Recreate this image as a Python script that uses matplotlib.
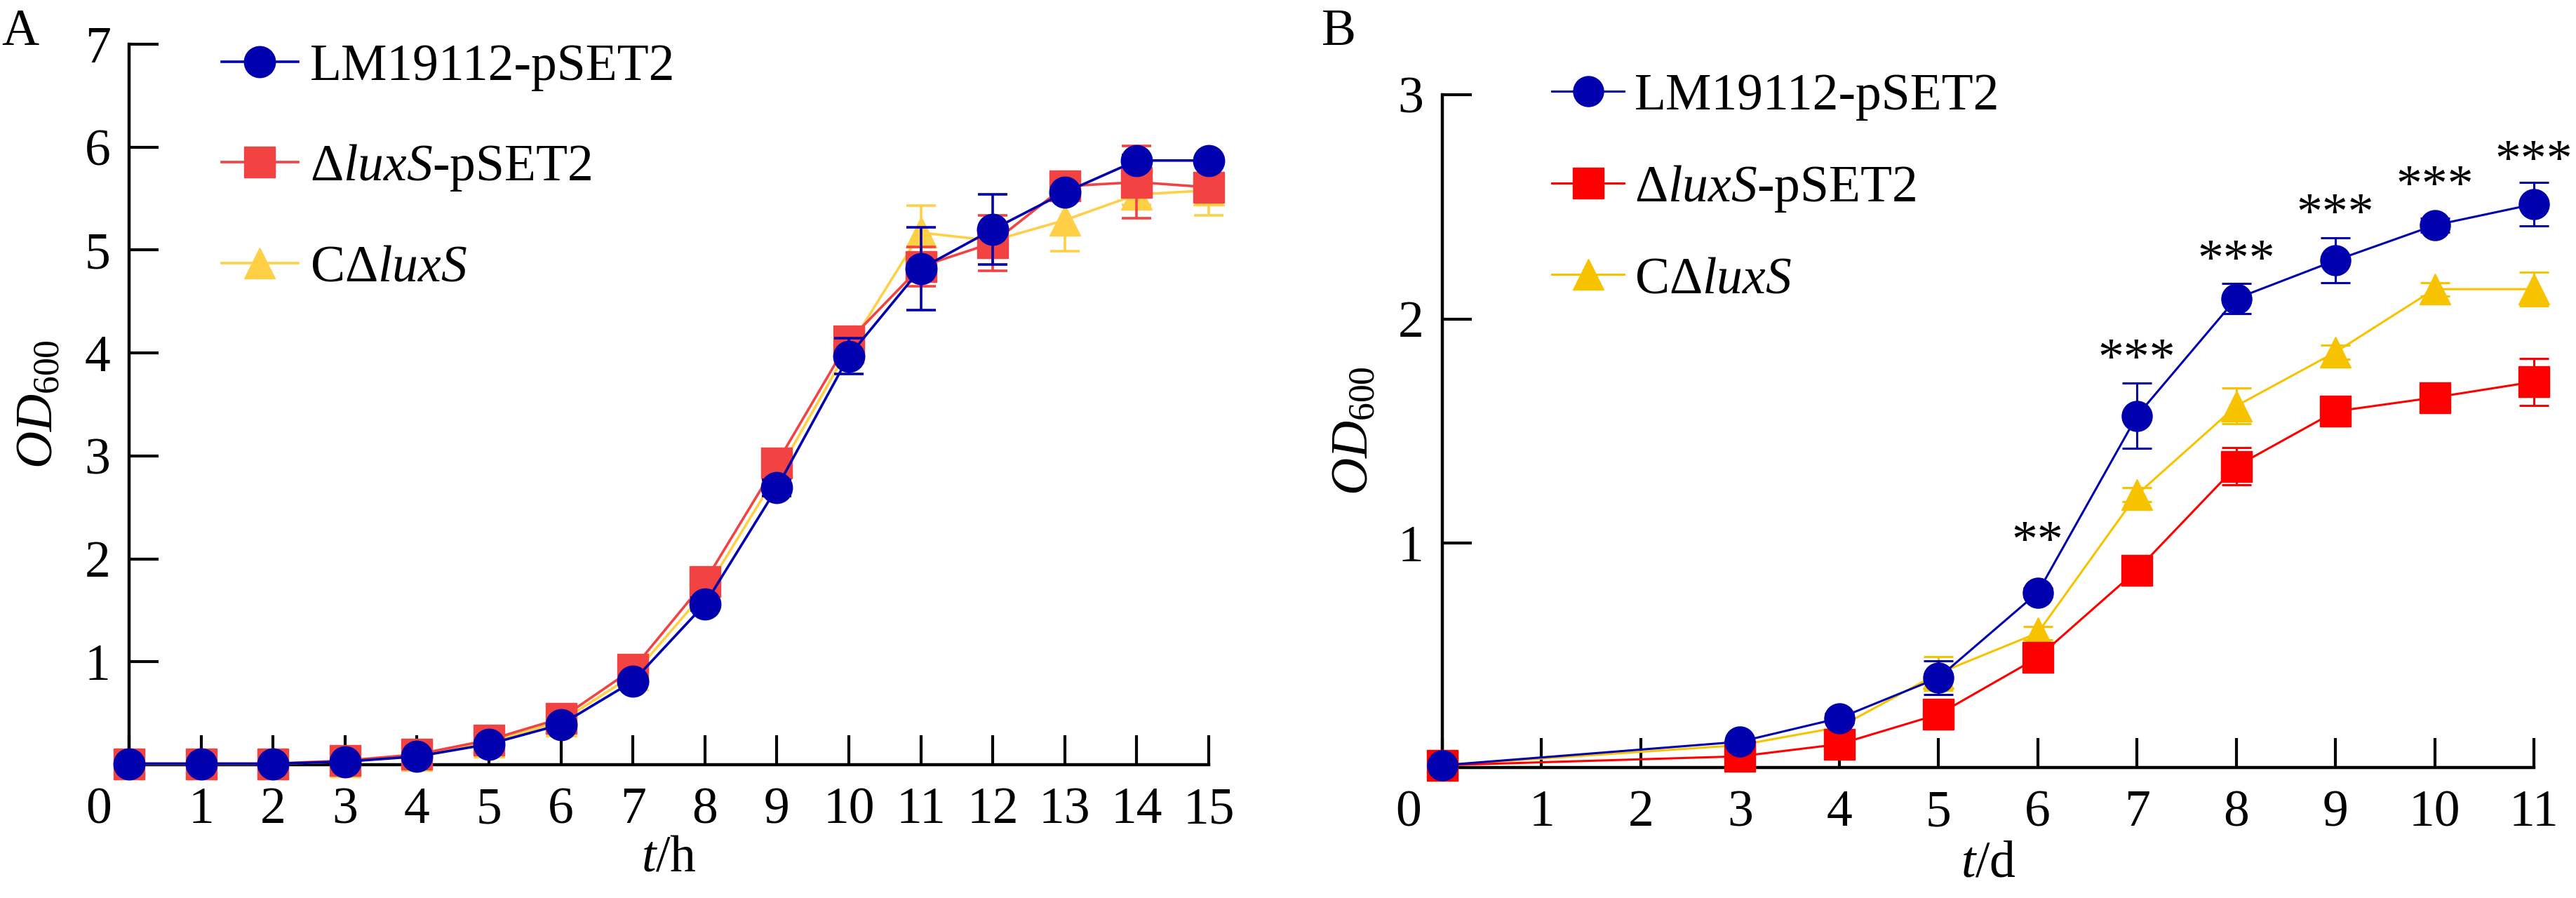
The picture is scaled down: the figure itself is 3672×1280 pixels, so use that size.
import matplotlib
matplotlib.use('Agg')
import matplotlib.pyplot as plt

plt.rcParams['font.family'] = ['Liberation Serif', 'DejaVu Serif']
plt.rcParams['mathtext.fontset'] = 'custom'
plt.rcParams['mathtext.rm'] = 'Liberation Serif'
plt.rcParams['mathtext.it'] = 'Liberation Serif:italic'

# ---- data: panel A (growth over hours) ----
hours = list(range(16))
a_wt = [0.01, 0.01, 0.01, 0.03, 0.08, 0.20, 0.39, 0.81, 1.56, 2.69, 3.97, 4.82, 5.20, 5.56, 5.87, 5.87]
a_wt_err = [0.01, 0.01, 0.01, 0.01, 0.02, 0.03, 0.04, 0.05, 0.06, 0.08, 0.175, 0.40, 0.34, 0.05, 0.05, 0.04]
a_mut = [0.01, 0.01, 0.01, 0.04, 0.10, 0.24, 0.45, 0.93, 1.78, 2.93, 4.12, 4.84, 5.07, 5.62, 5.66, 5.61]
a_mut_err = [0.01, 0.01, 0.01, 0.01, 0.02, 0.03, 0.04, 0.05, 0.06, 0.08, 0.06, 0.19, 0.27, 0.06, 0.35, 0.10]
a_comp = [0.01, 0.01, 0.01, 0.03, 0.09, 0.22, 0.42, 0.87, 1.68, 2.82, 4.05, 5.17, 5.09, 5.29, 5.54, 5.58]
a_comp_err = [0.01, 0.01, 0.01, 0.01, 0.02, 0.03, 0.04, 0.05, 0.06, 0.08, 0.08, 0.26, 0.15, 0.30, 0.10, 0.24]

# ---- data: panel B (growth over days) ----
days = [0, 3, 4, 5, 6, 7, 8, 9, 10, 11]
b_wt = [0.01, 0.115, 0.22, 0.40, 0.78, 1.568, 2.091, 2.261, 2.418, 2.512]
b_wt_err = [0.01, 0.01, 0.02, 0.075, 0.02, 0.145, 0.068, 0.10, 0.03, 0.098]
b_mut = [0.01, 0.05, 0.104, 0.237, 0.49, 0.88, 1.343, 1.588, 1.650, 1.72]
b_mut_err = [0.01, 0.01, 0.01, 0.02, 0.05, 0.03, 0.083, 0.03, 0.03, 0.105]
b_comp = [0.01, 0.10, 0.18, 0.42, 0.60, 1.217, 1.612, 1.852, 2.133, 2.133]
b_comp_err = [0.01, 0.01, 0.01, 0.075, 0.03, 0.03, 0.08, 0.03, 0.03, 0.075]

sig_days = [6, 7, 8, 9, 10, 11]
sig_marks = ['**', '***', '***', '***', '***', '***']
sig_y = [1.05, 1.864, 2.306, 2.51, 2.636, 2.75]

labels = ['LM19112-pSET2', r'Δ$\mathit{luxS}$-pSET2', r'CΔ$\mathit{luxS}$']
markers = ['o', 's', '^']
colors_a = ['#0000AF', '#F24242', '#FFD045']
colors_b = ['#0000AF', '#FF0000', '#F7C300']

FS = 53
W, H = 3672, 1280

fig = plt.figure(figsize=(W / 100, H / 100), dpi=100)
axA = fig.add_axes([184 / W, (H - 1090) / H, (1723 - 184) / W, (1090 - 63) / H])
axB = fig.add_axes([2056 / W, (H - 1094) / H, (3612 - 2056) / W, (1094 - 135) / H])


def draw_series(ax, x, series, errs, colors, lw, ms):
    handles = []
    # draw complement first, wild type last so blue sits on top
    for i in [2, 1, 0]:
        eb = ax.errorbar(x, series[i], yerr=errs[i], color=colors[i], marker=markers[i],
                         ms=ms, mec=colors[i], mfc=colors[i], lw=lw, elinewidth=lw,
                         capsize=15, capthick=lw, zorder=3 + (2 - i))
        for art in [eb.lines[0], *eb.lines[1], *eb.lines[2]]:
            art.set_clip_on(False)
        handles.append((i, eb.lines[0]))
    handles.sort()
    return [h for _, h in handles]


def style_axes(ax, xmax, ymax, xlab, ylab_x, xlab_y, zero_dx):
    ax.set_xlim(0, xmax)
    ax.set_ylim(0, ymax)
    for s in ['top', 'right']:
        ax.spines[s].set_visible(False)
    for s in ['left', 'bottom']:
        ax.spines[s].set_linewidth(3.2)
    ax.set_xticks(range(0, xmax + 1))
    ax.set_xticklabels([''] + [str(v) for v in range(1, xmax + 1)])
    ax.set_yticks(range(1, ymax + 1))
    ax.set_yticklabels([str(v) for v in range(1, ymax + 1)])
    ax.tick_params(axis='both', direction='in', length=30, width=3, labelsize=FS)
    ax.tick_params(axis='x', pad=23)
    ax.tick_params(axis='y', pad=19)
    ax.annotate('0', xy=(0, 0), xycoords='axes fraction', xytext=(zero_dx, -23),
                textcoords='offset points', ha='center', va='top', fontsize=FS)
    ax.set_ylabel(r'$OD_{600}$', fontsize=FS, va='center')
    ax.yaxis.set_label_coords(ylab_x, 0.5)
    ax.set_xlabel(xlab, fontsize=FS, va='center')
    ax.xaxis.set_label_coords(0.5, xlab_y)


# ---- panel A ----
hA = draw_series(axA, hours, [a_wt, a_mut, a_comp], [a_wt_err, a_mut_err, a_comp_err],
                 colors_a, 2.6, 32)
style_axes(axA, 15, 7, r'$t$/h', -0.0825, -0.1305, -31)
axA.legend(hA, labels, loc='upper left', bbox_to_anchor=(316 / W, 1 - 62 / H),
           bbox_transform=fig.transFigure, frameon=False, fontsize=FS,
           handlelength=1.48, handletextpad=0.23, labelspacing=1.0,
           borderpad=0, borderaxespad=0, numpoints=1)

# ---- panel B ----
hB = draw_series(axB, days, [b_wt, b_mut, b_comp], [b_wt_err, b_mut_err, b_comp_err],
                 colors_b, 2.2, 31)
style_axes(axB, 11, 3, r'$t$/d', -0.080, -0.144, -35)
axB.legend(hB, labels, loc='upper left', bbox_to_anchor=(2212 / W, 1 - 104 / H),
           bbox_transform=fig.transFigure, frameon=False, fontsize=FS,
           handlelength=1.40, handletextpad=0.2, labelspacing=0.83,
           borderpad=0, borderaxespad=0, numpoints=1)

# significance marks above the wild type curve
for d, m, y in zip(sig_days, sig_marks, sig_y):
    axB.annotate(m, xy=(d, y), xytext=(0, -25), textcoords='offset points',
                 ha='center', va='baseline', fontsize=FS, annotation_clip=False)

# panel letters
fig.text(2 / W, 1 - 13 / H, 'A', fontsize=FS, ha='left', va='top')
fig.text(1884 / W, 1 - 13 / H, 'B', fontsize=FS, ha='left', va='top')

fig.savefig('out.png', dpi=100)
